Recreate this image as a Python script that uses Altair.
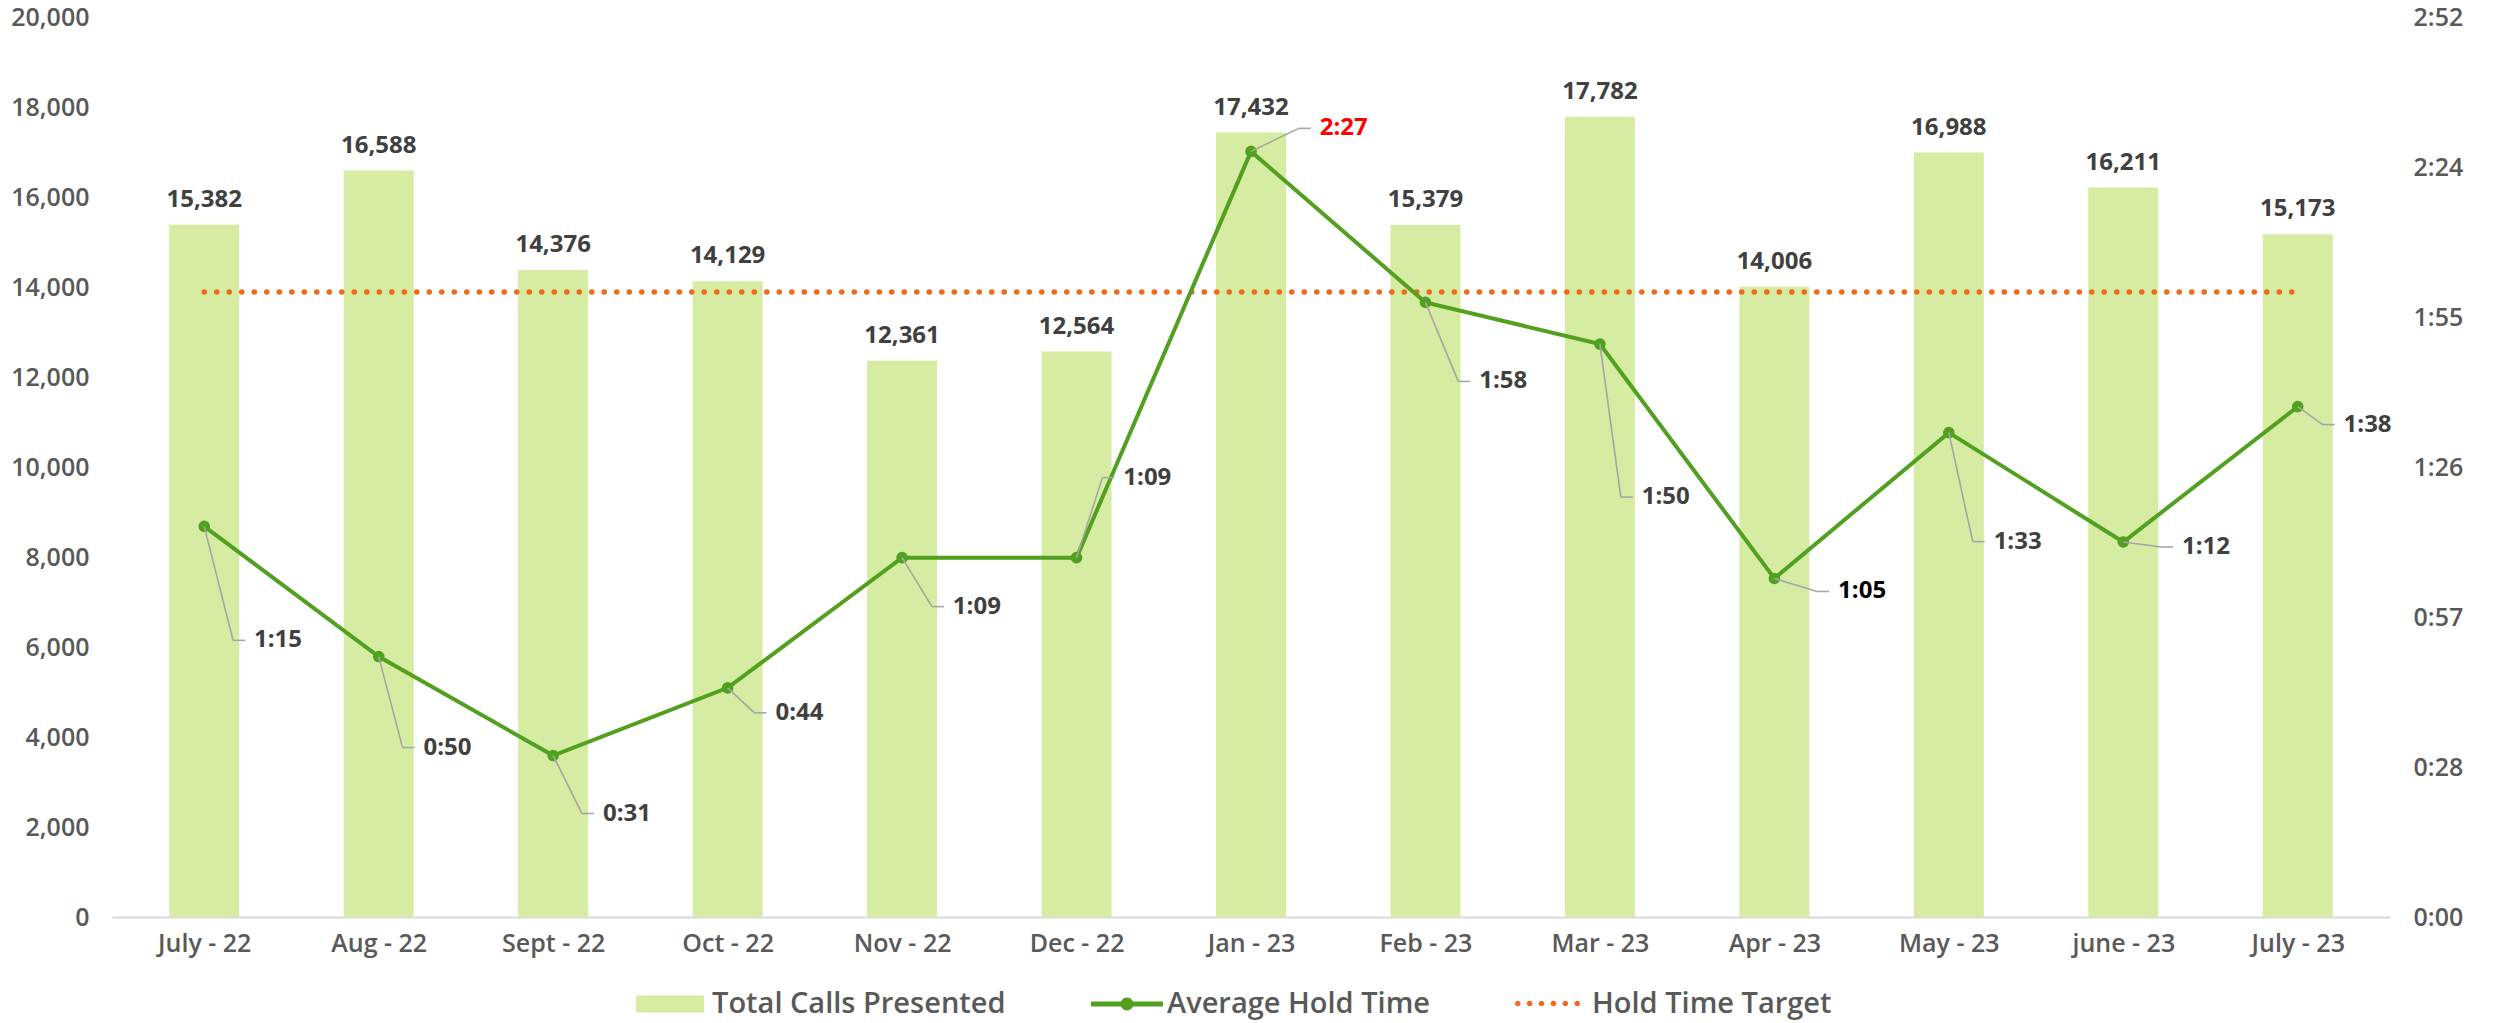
import json
import altair as alt
import pandas as pd

# ---------------- data ----------------
months = ["July - 22", "Aug - 22", "Sept - 22", "Oct - 22", "Nov - 22", "Dec - 22",
          "Jan - 23", "Feb - 23", "Mar - 23", "Apr - 23", "May - 23", "june - 23", "July - 23"]
total_calls = [15382, 16588, 14376, 14129, 12361, 12564, 17432,
               15379, 17782, 14006, 16988, 16211, 15173]
avg_hold_time = ["1:15", "0:50", "0:31", "0:44", "1:09", "1:09", "2:27",
                 "1:58", "1:50", "1:05", "1:33", "1:12", "1:38"]
hold_target = ["2:00", "2:00", "2:00", "2:00", "2:00", "2:00", "2:00",
               "2:00", "2:00", "2:00", "2:00", "2:00", "2:00"]
series_names = ["Total Calls Presented", "Average Hold Time", "Hold Time Target"]

# ---------------- label styling / placement (layout, not data) ----------------
hold_label_colors = ["#404040", "#404040", "#404040", "#404040", "#404040", "#404040", "#FF0000",
                     "#404040", "#404040", "#000000", "#404040", "#404040", "#404040"]
# leader-line elbow offsets from each point, in pixels (right, down)
leader_dx = [29, 24, 29, 27, 30, 26, 48, 33, 21, 43, 24, 38, 25]
leader_dy = [114, 91, 58, 25, 49, -80, -23, 79, 153, 13, 109, 5, 18]

W, H = 2278, 900
CALLS_MAX = 20000
SEC_MAX = 172.8          # 0.002 day, Excel secondary-axis maximum (2:52)
SEC_STEP = 28.8
PX_PER_CAT = W / len(months)
PX_PER_SEC = H / SEC_MAX

BAR = "#D5ECA2"
GREEN = "#52A01F"
ORANGE = "#EE6A1C"
LEADER = "#A6A6A6"
AXIS_TXT = "#595959"
LBL = "#404040"
FONT = "Open Sans"


def to_sec(t):
    m, s = t.split(":")
    return int(m) * 60 + int(s)


idx = list(range(len(months)))
df = pd.DataFrame({
    "i": idx,
    "month": months,
    "calls": total_calls,
    "hold": avg_hold_time,
    "sec": [to_sec(t) for t in avg_hold_time],
    "tgt": [to_sec(t) for t in hold_target],
    "lab_color": hold_label_colors,
    "s_bar": series_names[0],
    "s_line": series_names[1],
    "s_tgt": series_names[2],
})
df["ex"] = [i + dx / PX_PER_CAT for i, dx in zip(idx, leader_dx)]
df["hx"] = [i + (dx + 12) / PX_PER_CAT for i, dx in zip(idx, leader_dx)]
df["lx"] = [i + (dx + 21) / PX_PER_CAT for i, dx in zip(idx, leader_dx)]
df["ey"] = [s - dy / PX_PER_SEC for s, dy in zip(df["sec"], leader_dy)]

base = alt.Chart(df)

x_scale = alt.Scale(domain=[-0.5, len(months) - 0.5], nice=False, zero=False)
x_axis = alt.Axis(
    values=idx,
    labelExpr=json.dumps(months) + "[datum.value]",
    title=None, grid=False, ticks=False,
    domain=True, domainColor="#D9D9D9", domainWidth=2,
    labelFont=FONT, labelFontSize=25, labelFontWeight=600, labelColor=AXIS_TXT,
    labelPadding=14, labelFlush=False, labelOverlap=False,
)


def X(field):
    return alt.X(f"{field}:Q", scale=x_scale, axis=x_axis)


left_axis = alt.Axis(
    values=list(range(0, CALLS_MAX + 1, 2000)), format=",.0f", title=None,
    grid=False, ticks=False, domain=False,
    labelFont=FONT, labelFontSize=25, labelFontWeight=600, labelColor=AXIS_TXT,
    labelPadding=23,
)
y_left = alt.Scale(domain=[0, CALLS_MAX], nice=False, zero=True)

right_axis = alt.Axis(
    orient="right",
    values=[round(k * SEC_STEP, 6) for k in range(7)],
    labelExpr="floor(datum.value/60 + 1e-9) + ':' + (floor(datum.value % 60 + 1e-6) < 10 ? '0' : '') + floor(datum.value % 60 + 1e-6)",
    title=None, grid=False, ticks=False, domain=False,
    labelFont=FONT, labelFontSize=25, labelFontWeight=600, labelColor=AXIS_TXT,
    labelPadding=23, labelAlign="left",
)
y_right = alt.Scale(domain=[0, SEC_MAX], nice=False, zero=True)


def YR(field):
    return alt.Y(f"{field}:Q", scale=y_right, axis=right_axis)


legend_common = dict(
    orient="none", direction="horizontal", title=None, padding=0,
    labelFont=FONT, labelFontSize=29, labelFontWeight=600, labelColor=AXIS_TXT,
    labelLimit=0, symbolStrokeWidth=0, symbolOpacity=1,
)

bars = base.mark_bar(size=70).encode(
    x=X("i"),
    y=alt.Y("calls:Q", scale=y_left, axis=left_axis),
    fill=alt.Fill("s_bar:N",
                  scale=alt.Scale(domain=[series_names[0]], range=[BAR]),
                  legend=alt.Legend(**legend_common,
                                    legendX=524, legendY=953,
                                    symbolType="M-1,-0.25H1V0.25H-1Z",
                                    symbolSize=68 * 68, labelOffset=8)),
)
bar_labels = base.mark_text(
    baseline="middle", dy=-25, font=FONT, fontSize=24, fontWeight="bold", color=LBL
).encode(
    x=X("i"),
    y=alt.Y("calls:Q", scale=y_left, axis=left_axis),
    text=alt.Text("calls:Q", format=",.0f"),
)

target = base.mark_line(
    color=ORANGE, strokeWidth=5.5, strokeCap="round"
).encode(
    x=X("i"),
    y=YR("tgt"),
    strokeDash=alt.StrokeDash(
        "s_tgt:N",
        scale=alt.Scale(domain=[series_names[2]], range=[[0.1, 12.4]]),
        legend=alt.Legend(**legend_common, legendX=1403, legendY=954,
                          symbolType=("M-0.83,0A0.085,0.085 0 1,1 -1,0A0.085,0.085 0 1,1 -0.83,0Z "
                                      "M-0.464,0A0.085,0.085 0 1,1 -0.634,0A0.085,0.085 0 1,1 -0.464,0Z "
                                      "M-0.098,0A0.085,0.085 0 1,1 -0.268,0A0.085,0.085 0 1,1 -0.098,0Z "
                                      "M0.268,0A0.085,0.085 0 1,1 0.098,0A0.085,0.085 0 1,1 0.268,0Z "
                                      "M0.634,0A0.085,0.085 0 1,1 0.464,0A0.085,0.085 0 1,1 0.634,0Z "
                                      "M1,0A0.085,0.085 0 1,1 0.83,0A0.085,0.085 0 1,1 1,0Z"),
                          symbolSize=65 * 65, symbolFillColor=ORANGE, labelOffset=12),
    ),
)

line = base.mark_line(strokeWidth=4).encode(
    x=X("i"),
    y=YR("sec"),
    stroke=alt.Stroke(
        "s_line:N",
        scale=alt.Scale(domain=[series_names[1]], range=[GREEN]),
        legend=alt.Legend(**legend_common, legendX=979, legendY=951,
                          symbolType=("M-1,-0.07H1V0.07H-1Z "
                                      "M0.18,0A0.18,0.18 0 1,1 -0.18,0A0.18,0.18 0 1,1 0.18,0Z"),
                          symbolSize=72 * 72, symbolFillColor=GREEN, labelOffset=4),
    ),
)
points = base.mark_circle(size=135, color=GREEN, opacity=1).encode(x=X("i"), y=YR("sec"))

leader1 = base.mark_rule(color=LEADER, strokeWidth=1.6).encode(
    x=X("i"), y=YR("sec"), x2="ex:Q", y2="ey:Q")
leader2 = base.mark_rule(color=LEADER, strokeWidth=1.6).encode(
    x=X("ex"), y=YR("ey"), x2="hx:Q")
hold_labels = base.mark_text(
    align="left", baseline="middle", font=FONT, fontSize=24, fontWeight="bold"
).encode(
    x=X("lx"), y=YR("ey"), text="hold:N",
    color=alt.Color("lab_color:N", scale=None),
)

left_group = alt.layer(bars, bar_labels)
right_group = alt.layer(target, line, points, leader1, leader2, hold_labels)

chart = alt.layer(left_group, right_group).resolve_scale(
    y="independent"
).properties(
    width=W, height=H,
    autosize=alt.AutoSizeParams(type="none"),
    padding={"left": 104, "top": 9, "right": 98, "bottom": 105},
    background="white",
).configure_view(stroke=None)

chart.save("out.html", embed_options={"renderer": "svg", "actions": False})
